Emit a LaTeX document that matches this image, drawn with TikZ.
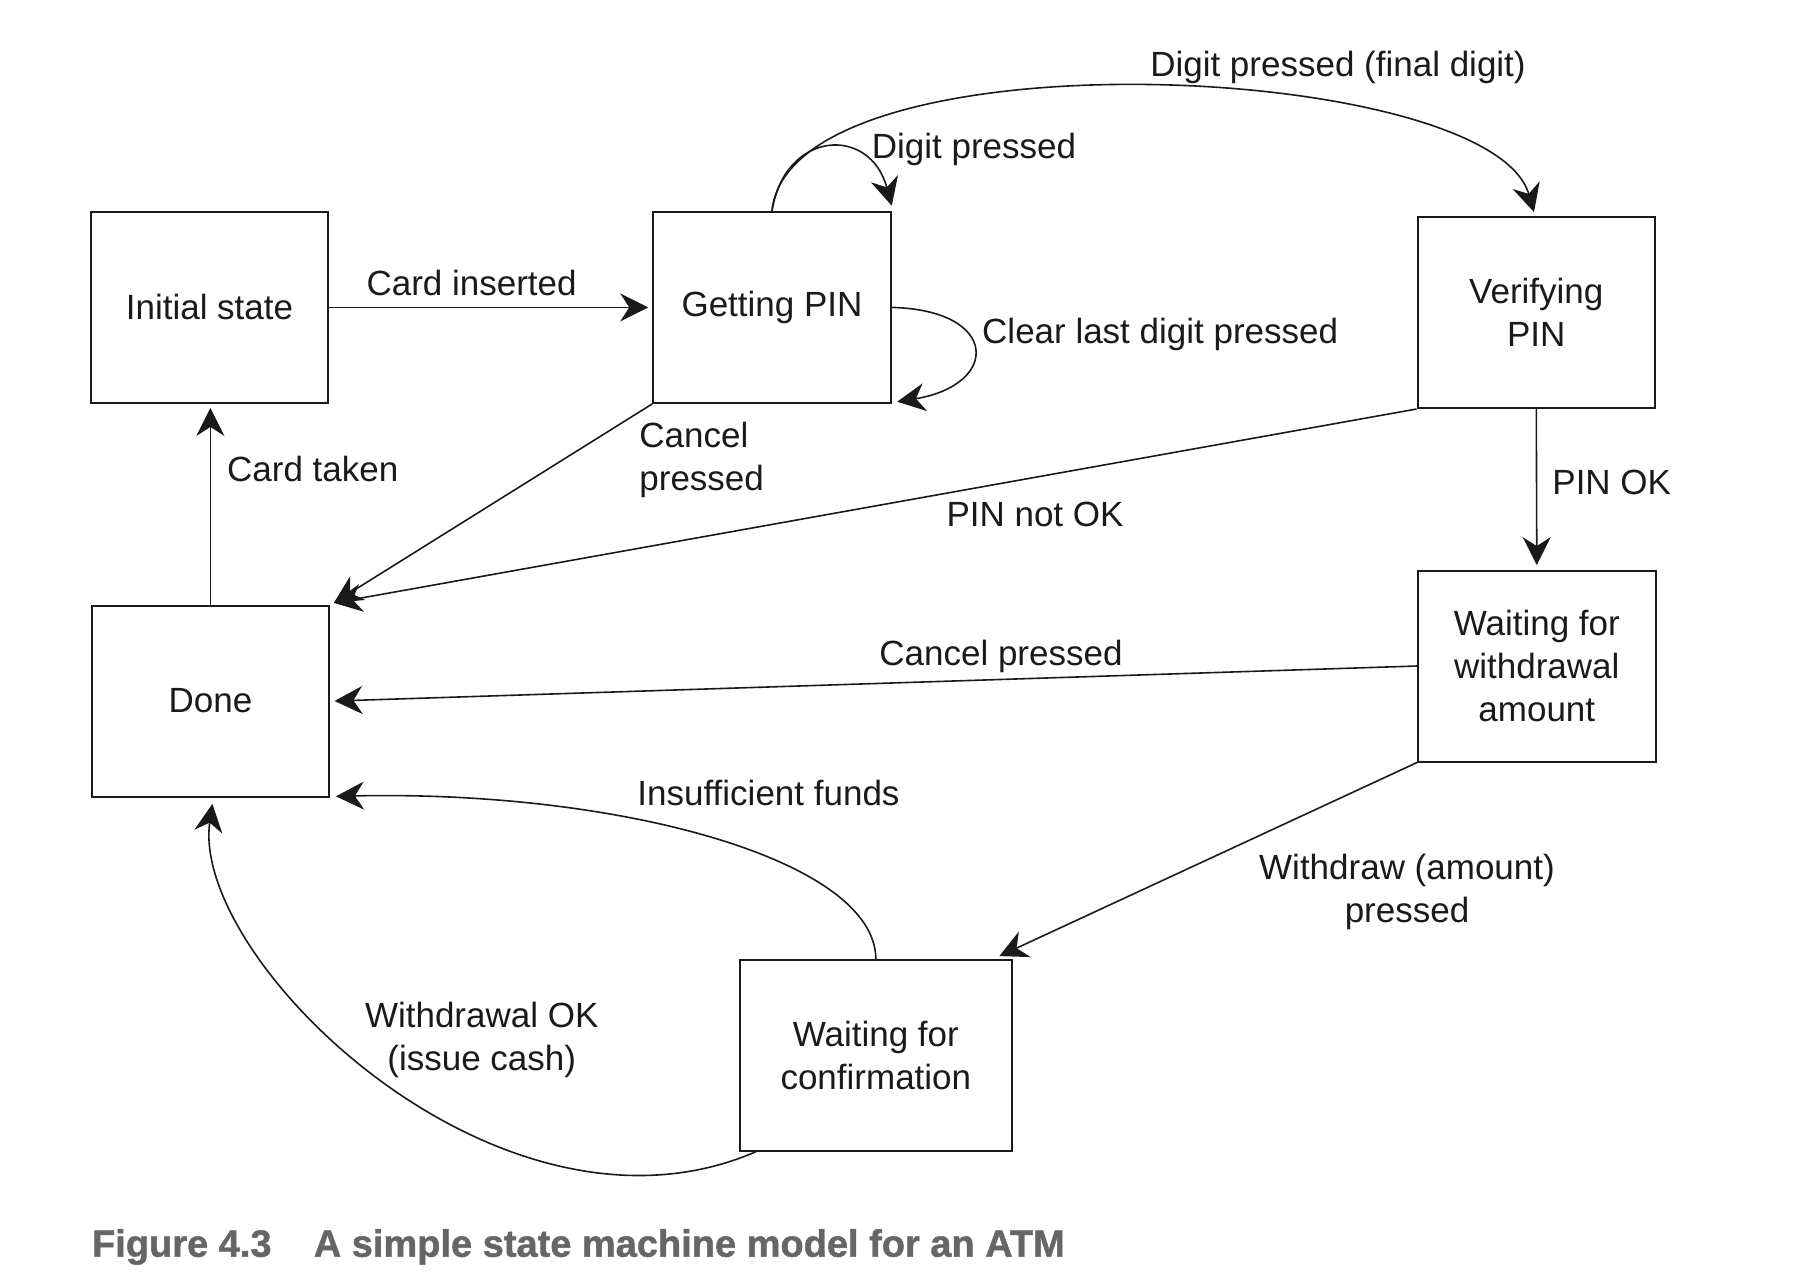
\documentclass[tikz,border=0pt]{standalone}
\usepackage{fontspec}
\setmainfont{Liberation Sans}
\newfontfamily\capfont{Liberation Sans}[BoldFeatures={FakeBold=1.2}]
\usetikzlibrary{arrows.meta}
\definecolor{ink}{HTML}{1A1A1A}
\definecolor{captgray}{HTML}{666666}
\begin{document}
\begin{tikzpicture}[x=0.5pt,y=-0.5pt,
  every node/.style={font=\fontsize{17.5}{21.5}\selectfont, text=ink},
  stbox/.style={draw=ink, line width=1pt, minimum width=118.75pt, minimum height=95.5pt, inner sep=0pt, align=center},
  conn/.style={draw=ink, line width=0.8pt, -{Stealth[length=14pt,width=14pt,inset=4.5pt]}},
  lbl/.style={inner sep=0pt, anchor=base},
  lblw/.style={inner sep=0pt, anchor=base west, align=left},
  capt/.style={inner sep=0pt, anchor=base west, font=\capfont\fontsize{19}{23}\selectfont\bfseries, text=captgray},
]
\useasboundingbox (0,0) rectangle (1811,1287);

% states
\node[stbox] (init) at (209.5,307.4) {Initial state};
\node[stbox] (getpin) at (772,307.4) {Getting PIN};
\node[stbox] (verify) at (1536.3,312.5) {Verifying\\PIN};
\node[stbox] (done) at (210.4,701) {Done};
\node[stbox] (waitamt) at (1536.8,666) {Waiting for\\withdrawal\\amount};
\node[stbox, minimum width=135.85pt] (waitconf) at (875.85,1055.3) {Waiting for\\confirmation};

% connectors
\draw[conn] (init.east) -- ([xshift=-2pt]getpin.west);
\draw[conn] (done.north) -- ([yshift=-2pt]done.north |- init.south);
\draw[conn] (getpin.south west) -- ([shift={(1.85pt,0.8pt)}]done.north east);
\draw[conn] (verify.south west) -- ([shift={(1.85pt,0.8pt)}]done.north east);
\draw[conn] (waitamt.west) -- ([xshift=2.15pt]done.east);
\draw[conn] (verify.south) -- ([yshift=2.2pt]waitamt.north);
\draw[conn] (waitamt.south west) -- ([shift={(-6.7pt,1.35pt)}]waitconf.north east);
\draw[conn] (waitconf.north) .. controls (875,860) and (620,790) .. ([shift={(2.9pt,0.6pt)}]done.south east);
\draw[conn] ([xshift=8.35pt]waitconf.south west) .. controls (500,1262) and (190,960) .. ([shift={(1pt,-3.15pt)}]done.south);
\draw[conn] (getpin.north) .. controls (790,30) and (1490,60) .. ([shift={(-1.15pt,1.95pt)}]verify.north);
\draw[conn] (getpin.north) .. controls (785,130) and (870,125) .. ([yshift=2.6pt]getpin.north east);
\draw[conn] (getpin.east) .. controls (1000,310) and (1000,385) .. ([shift={(2.7pt,1.1pt)}]getpin.south east);

% labels
\node[lbl] (lcard) at (471.6,295) {Card inserted};
\node[lblw] (ltaken) at (226.8,481.6) {Card taken};
\node[lblw] (lcancela) at (639,490) {Cancel\\pressed};
\node[lbl] (ldigitf) at (1338,76.7) {Digit pressed (final digit)};
\node[lbl] (ldigit) at (974,158) {Digit pressed};
\node[lblw] (lclear) at (981.8,343) {Clear last digit pressed};
\node[lbl] (lpinno) at (1035,526.5) {PIN not OK};
\node[lblw] (lpinok) at (1552,494.7) {PIN OK};
\node[lbl] (lcancelb) at (1001,665) {Cancel pressed};
\node[lbl] (linsuf) at (768.5,805) {Insufficient funds};
\node[lbl, align=center] (lwithdraw) at (1407,922.6) {Withdraw (amount)\\pressed};
\node[lbl, align=center] (lwok) at (481.7,1070) {Withdrawal OK\\(issue cash)};

% caption
\node[capt] (fig) at (91.7,1256.7) {Figure 4.3};
\node[capt] (captext) at (313.4,1256.7) {A simple state machine model for an ATM};
\end{tikzpicture}
\end{document}
